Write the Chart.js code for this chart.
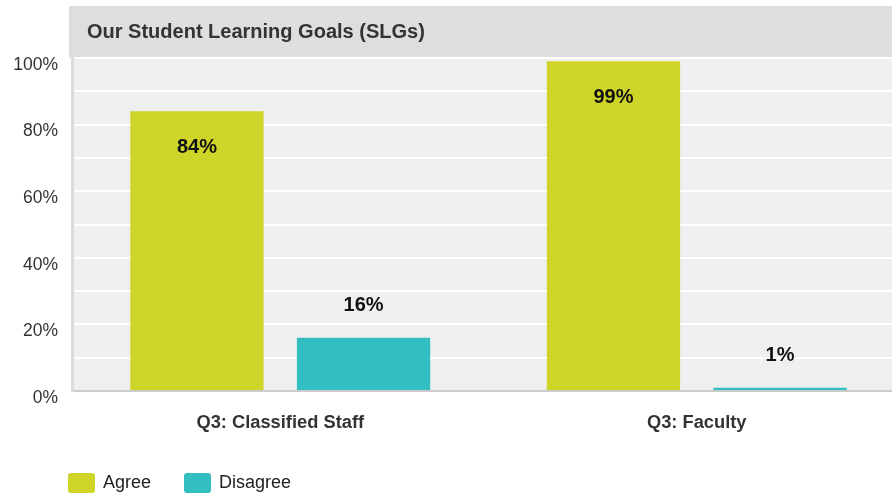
<!DOCTYPE html>
<html>
<head>
<meta charset="utf-8">
<script src="https://cdn.jsdelivr.net/npm/chart.js@4.4.0/dist/chart.umd.min.js"></script>
<style>
  html, body { margin: 0; padding: 0; background: #fff; overflow: hidden; }
  #wrap { position: relative; width: 905px; height: 496px; }
  #legend { position: absolute; left: 68px; top: 472px; display: flex; font: 18px "Liberation Sans", Arial, sans-serif; color: #222; }
  .lg-item { display: flex; align-items: center; margin-right: 33px; }
  .lg-box { width: 27px; height: 20px; border-radius: 3px; margin-right: 8px; }
</style>
</head>
<body>
<div id="wrap">
  <canvas id="c" width="905" height="496"></canvas>
  <div id="legend"></div>
</div>
<script>
const chartTitle = 'Our Student Learning Goals (SLGs)';
const categories = ['Q3: Classified Staff', 'Q3: Faculty'];
const seriesNames = ['Agree', 'Disagree'];
const agreeValues = [84, 99];
const disagreeValues = [16, 1];
const seriesColors = ['#cfd428', '#33bec1'];
const tickLabels = ['0%', '20%', '40%', '60%', '80%', '100%'];

const FONT = '"Liberation Sans", Arial, sans-serif';

// title bar + grey plot background
const backdrop = {
  id: 'backdrop',
  beforeDraw(chart) {
    const { ctx, chartArea: a } = chart;
    ctx.save();
    ctx.fillStyle = '#dedede';
    ctx.fillRect(a.left - 3, 6, chart.width - a.left + 3, a.top - 6);
    ctx.fillStyle = '#efefef';
    ctx.fillRect(a.left, a.top, a.right - a.left, a.bottom - a.top);
    ctx.fillStyle = '#333';
    ctx.font = 'bold 20px ' + FONT;
    ctx.textBaseline = 'middle';
    ctx.fillText(chartTitle, 87, 32);
    ctx.restore();
  }
};

// value labels: inside the bar for big values, above it for small ones
const valueLabels = {
  id: 'valueLabels',
  afterDatasetsDraw(chart) {
    const { ctx } = chart;
    ctx.save();
    ctx.font = 'bold 20px ' + FONT;
    ctx.fillStyle = '#111';
    ctx.textAlign = 'center';
    ctx.textBaseline = 'middle';
    chart.data.datasets.forEach((ds, i) => {
      chart.getDatasetMeta(i).data.forEach((bar, j) => {
        const v = ds.data[j];
        const y = v >= 50 ? bar.y + 36 : bar.y - 32;
        ctx.fillText(v + '%', bar.x, y);
      });
    });
    ctx.restore();
  }
};

new Chart(document.getElementById('c'), {
  type: 'bar',
  data: {
    labels: categories,
    datasets: [
      { label: seriesNames[0], data: agreeValues, backgroundColor: seriesColors[0], barPercentage: 0.8, categoryPercentage: 0.8 },
      { label: seriesNames[1], data: disagreeValues, backgroundColor: seriesColors[1], barPercentage: 0.8, categoryPercentage: 0.8 }
    ]
  },
  options: {
    responsive: false, animation: false,
    events: [],
    layout: { padding: { top: 58, right: 0, bottom: 0, left: 0 } },
    plugins: { legend: { display: false }, tooltip: { enabled: false } },
    scales: {
      x: {
        grid: { display: false, drawTicks: false },
        border: { color: '#cccccc', width: 2 },
        ticks: { color: '#333', font: { family: FONT, size: 18.3, weight: 'bold' }, padding: 21 },
        afterFit: s => { s.height = 105; }
      },
      y: {
        min: 0, max: 100,
        grid: { color: '#ffffff', lineWidth: 2, drawTicks: false },
        border: { color: '#dcdcdc', width: 3 },
        ticks: {
          stepSize: 10, padding: 14, labelOffset: 7,
          color: '#333', font: { family: FONT, size: 17.5 },
          callback: v => (v % 20 === 0 ? tickLabels[v / 20] : '')
        },
        afterFit: s => { s.width = 72; }
      }
    }
  },
  plugins: [backdrop, valueLabels]
});

document.getElementById('legend').innerHTML = seriesNames.map((n, i) =>
  `<div class="lg-item"><div class="lg-box" style="background:${seriesColors[i]}"></div><span>${n}</span></div>`
).join('');
</script>
</body>
</html>
